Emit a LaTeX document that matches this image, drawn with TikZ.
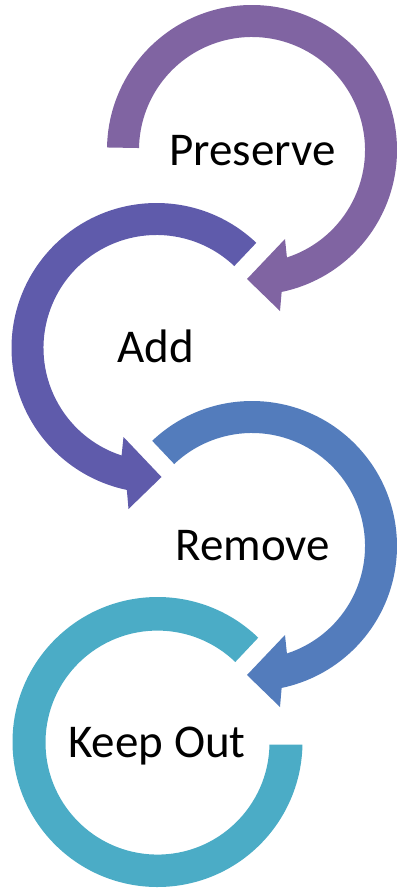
\documentclass[tikz,border=0pt]{standalone}
\usepackage{fontspec}
\setmainfont{Carlito}
\definecolor{cpurple}{HTML}{8064A2}
\definecolor{cindigo}{HTML}{5F5BAB}
\definecolor{cblue}{HTML}{537CBC}
\definecolor{cteal}{HTML}{4BACC6}
\tikzset{
  lbl/.style={font=\fontsize{47}{56}\selectfont, text=black, inner sep=0pt, anchor=base},
  pics/cwarrow/.style 2 args={code={
    \fill[#2] (#1:145) arc[start angle=#1, end angle=438.2, radius=145]
      -- (28,161) -- (-5,129) -- (33,89) -- (72:113)
      arc[start angle=432, end angle=#1, radius=113] -- cycle;
  }}
}
\begin{document}
\begin{tikzpicture}[x=1pt,y=-1pt]
  \useasboundingbox (0,0) rectangle (398,889);
  \pic (p1) at (252,150) {cwarrow={181}{cpurple}};
  \pic[xscale=-1] (p2) at (156.5,348) {cwarrow={226.5}{cindigo}};
  \pic (p3) at (252,546) {cwarrow={226.5}{cblue}};
  \fill[cteal] (157.5,742) ++(314:145) arc[start angle=314, end angle=1, radius=145]
     -- ++(-33,0) arc[start angle=1, end angle=314, radius=112] -- cycle;
  \node[lbl] (preserve) at (252.5,165) {Preserve};
  \node[lbl] (add) at (155.5,362) {Add};
  \node[lbl] (remove) at (252.5,560) {Remove};
  \node[lbl] (keepout) at (157,757) {Keep Out};
\end{tikzpicture}
\end{document}
